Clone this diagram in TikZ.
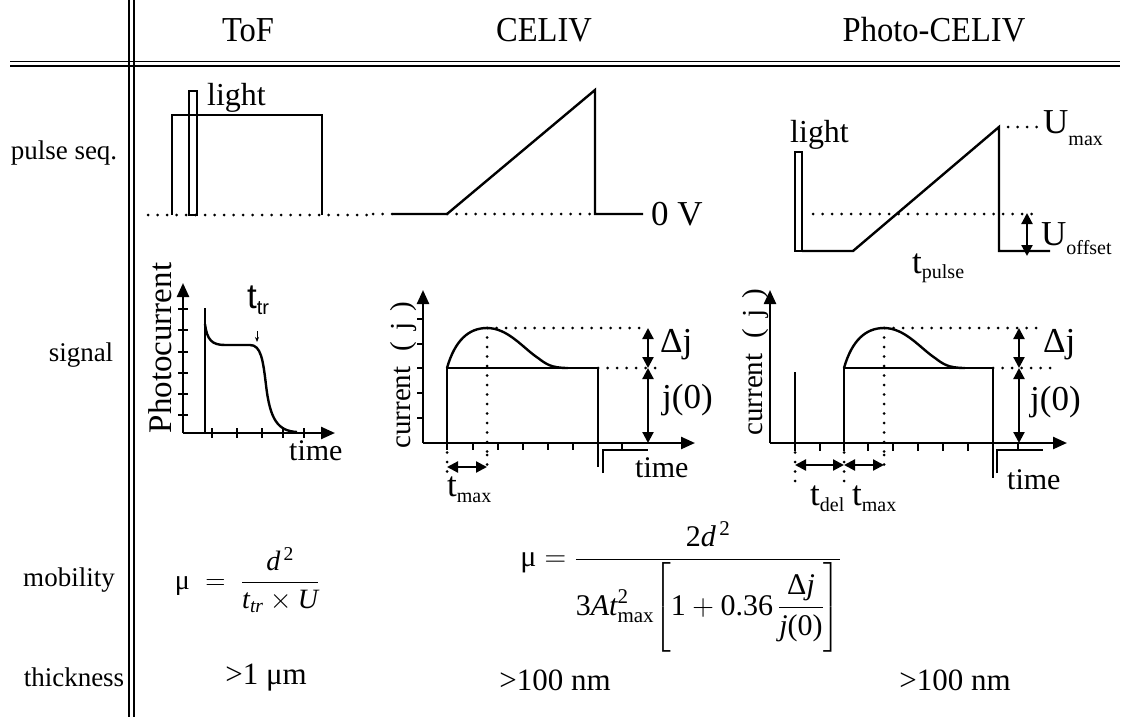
\RequirePackage{fix-cm}
\documentclass[tikz,border=0pt]{standalone}
\usepackage{amsmath}
\usepackage{fontspec}
\setmainfont{Liberation Serif}
\newfontfamily\sansf{Liberation Sans}
\usetikzlibrary{arrows.meta}
\newcommand\myfs[1]{\fontsize{#1}{#1}\selectfont}
\newcommand\lsub[2]{\raisebox{#1}{\myfs{20}#2}}
\begin{document}
\begin{tikzpicture}[x=1pt,y=-1pt,
 ln/.style={line width=2.4pt},
 thinln/.style={line width=1.7pt},
 grid/.style={line width=1.5pt},
 dots/.style={line width=3pt,line cap=round,dash pattern=on 0pt off 9.5pt},
 ax/.style={line width=2.4pt,-{Triangle[length=14pt,width=12pt]}},
 dbl/.style={line width=2.2pt,{Triangle[length=11pt,width=11pt]}-{Triangle[length=11pt,width=11pt]}},
 tk/.style={line width=2pt},
 hdr/.style={font=\myfs{35},inner sep=0pt,xscale=0.93},
 lbl/.style={font=\myfs{27},inner sep=0pt},
 txt/.style={font=\myfs{32},inner sep=0pt},
 big/.style={font=\myfs{35},inner sep=0pt},
 form/.style={font=\myfs{28},inner sep=0pt},
]
\useasboundingbox (0,0) rectangle (1125,717);
\fill[white] (0,0) rectangle (1125,717);
% table frame
\draw[grid] (129,0) -- (129,717);
\draw[grid] (134,0) -- (134,717);
\draw[grid] (10,61.5) -- (1120,61.5);
\draw[grid] (10,66) -- (1120,66);
% headers
\node[hdr,anchor=base] (hTof) at (248,42) {ToF};
\node[hdr,anchor=base] (hCel) at (544,42) {CELIV};
\node[hdr,anchor=base] (hPho) at (934,42) {Photo-CELIV};
% row labels
\node[lbl] (rPulse) at (64,153) {pulse seq.};
\node[lbl] (rSig) at (81,355) {signal};
\node[lbl] (rMob) at (69,580) {mobility};
\node[lbl] (rThk) at (74,677) {thickness};

% ---------- ToF pulse ----------
\draw[dots] (148,215) -- (372,215);
\draw[ln] (172,215) -- (172,115) -- (322,115) -- (322,215);
\draw[thinln] (189,215) rectangle (197,91);
\node[txt,anchor=base west] (tofLight) at (207,105) {light};

% ---------- CELIV pulse ----------
\draw[dots] (373,214) -- (393,214);
\draw[dots] (447,214) -- (595,214);
\draw[ln] (393,214) -- (447,214) -- (595,90) -- (595,214) -- (643,214);
\node[big,anchor=base west] (zeroV) at (651,225) {0 V};

% ---------- Photo-CELIV pulse ----------
\draw[dots] (813,214) -- (1040,214);
\draw[dots] (1008,127) -- (1040,127);
\draw[thinln] (795,251) rectangle (802,152);
\draw[ln] (802,251) -- (853,251) -- (999,127) -- (999,251) -- (1050,251);
\draw[dbl] (1027,213) -- (1027,256);
\node[txt,anchor=base west] (phLight) at (790,142) {light};
\node[big,anchor=base west] (uMax) at (1043,133) {U\lsub{-12pt}{max}};
\node[big,anchor=base west] (uOff) at (1041,245) {U\lsub{-9pt}{offset}};
\node[big,anchor=base west] (tPulse) at (912,273) {t\lsub{-5pt}{pulse}};

% ---------- ToF signal ----------
\draw[ax] (183,433) -- (183,283);
\draw[ax] (183,433) -- (335,433);
\foreach \yy in {309,330,352,373,394,415} \draw[tk] (178,\yy) -- (188,\yy);
\foreach \xx in {212,237,262,283,304} \draw[tk] (\xx,428) -- (\xx,438);
\draw[ln] (205,433) -- (205,308);
\draw[ln] (205,324) .. controls (207,340) and (212,345) .. (225,345) -- (250,345)
  .. controls (261,345) and (263,360) .. (266,385) .. controls (270,420) and (278,431) .. (297,432);
\draw[line width=1pt,-{Stealth[length=5pt,width=4pt]}] (257,331) -- (257,342);
\node[big,anchor=base west] (tTr) at (247,308) {\sansf t\lsub{-6pt}{\sansf tr}};
\node[font=\myfs{33},inner sep=0pt,rotate=90] (photoc) at (160,348) {Photocurrent};
\node[font=\myfs{30},inner sep=0pt,anchor=base west] (timeA) at (289,460) {time};

% ---------- CELIV signal ----------
\draw[ax] (423,443) -- (423,290);
\draw[ax] (423,443) -- (695,443);
\foreach \yy in {319,344,368,393,418} \draw[tk] (417,\yy) -- (423,\yy);
\foreach \xx in {447,473,498,523,548,573,622} \draw[tk] (\xx,443) -- (\xx,450);
\draw[dots] (487,328) -- (487,455);
\draw[dots] (487,328) -- (648,328);
\draw[dots] (598,368) -- (657,368);
\draw[dots] (447,443) -- (447,472);
\draw[dots] (487,455) -- (487,472);
\draw[ln] (447,443) -- (447,368) -- (598,368) -- (598,467);
\draw[ln] (447,368) .. controls (455,340) and (469,328) .. (487,328)
  .. controls (508,328) and (523,348) .. (538,358) .. controls (546,364) and (551,368) .. (568,368);
\draw[thinln] (603,473) -- (603,450) -- (648,450);
\draw[dbl] (648,328) -- (648,368);
\draw[dbl] (648,368) -- (648,443);
\draw[dbl] (447,467) -- (487,467);
\node[big,anchor=west] (dJa) at (660,345) {Δj};
\node[big,anchor=west] (j0a) at (662,400) {j(0)};
\node[big,anchor=base west] (tMaxA) at (447,496) {t\lsub{-6pt}{max}};
\node[font=\myfs{30},inner sep=0pt,anchor=base west] (timeB) at (635,477) {time};
\node[font=\myfs{29},inner sep=0pt,rotate=90] (curA) at (404,375) {current\hspace{0.5em}(\hspace{0.4em}j\hspace{0.4em})};

% ---------- Photo-CELIV signal ----------
\draw[ax] (770,443) -- (770,290);
\draw[ax] (770,443) -- (1067,443);
\foreach \xx in {795,820,844,868,893,918,943,968,993,1018} \draw[tk] (\xx,443) -- (\xx,451);
\draw[line width=2pt] (795,443) -- (795,372);
\draw[dots] (884,328) -- (884,455);
\draw[dots] (884,328) -- (1040,328);
\draw[dots] (993,368) -- (1055,368);
\draw[dots] (795,443) -- (795,490);
\draw[dots] (844,443) -- (844,490);
\draw[dots] (884,455) -- (884,470);
\draw[ln] (844,443) -- (844,368) -- (993,368) -- (993,478);
\draw[ln] (844,368) .. controls (852,340) and (866,328) .. (884,328)
  .. controls (905,328) and (920,348) .. (935,358) .. controls (943,364) and (948,368) .. (965,368);
\draw[thinln] (997,473) -- (997,450) -- (1043,450);
\draw[dbl] (1019,328) -- (1019,368);
\draw[dbl] (1019,368) -- (1019,443);
\draw[dbl] (795,465) -- (844,465);
\draw[dbl] (844,465) -- (884,465);
\node[big,anchor=west] (dJb) at (1043,345) {Δj};
\node[big,anchor=west] (j0b) at (1030,402) {j(0)};
\node[big,anchor=base west] (tDel) at (810,505) {t\lsub{-6pt}{del}};
\node[big,anchor=base west] (tMaxB) at (852,505) {t\lsub{-6pt}{max}};
\node[font=\myfs{30},inner sep=0pt,anchor=base west] (timeC) at (1007,489) {time};
\node[font=\myfs{29},inner sep=0pt,rotate=90] (curB) at (756,362) {current\hspace{0.5em}(\hspace{0.4em}j\hspace{0.4em})};

% ---------- mobility ----------
\node[form] (fTof) at (247,580) {$\text{μ}\;=\;\dfrac{\mathit{d}^{\,\text{2}}}{\mathit{t}_{\mathit{tr}}\times\mathit{U}}$};
\node[form,font=\myfs{30}] (fCel) at (681,587) {$\text{μ} = \dfrac{\text{2}\mathit{d}^{\,\text{2}}}{\text{3}\mathit{At}^{\text{2}}_{\text{max}}\!\left[\rule[-37pt]{0pt}{86pt}\text{1}+\text{0.36}\,\dfrac{\text{Δ}\mathit{j}}{\mathit{j}\text{(0)}}\right]}$};

% ---------- thickness ----------
\node[font=\myfs{31},inner sep=0pt] (thA) at (266,678) {>1 μm};
\node[font=\myfs{31},inner sep=0pt] (thB) at (555,680) {>100 nm};
\node[font=\myfs{31},inner sep=0pt] (thC) at (955,680) {>100 nm};
\end{tikzpicture}
\end{document}
